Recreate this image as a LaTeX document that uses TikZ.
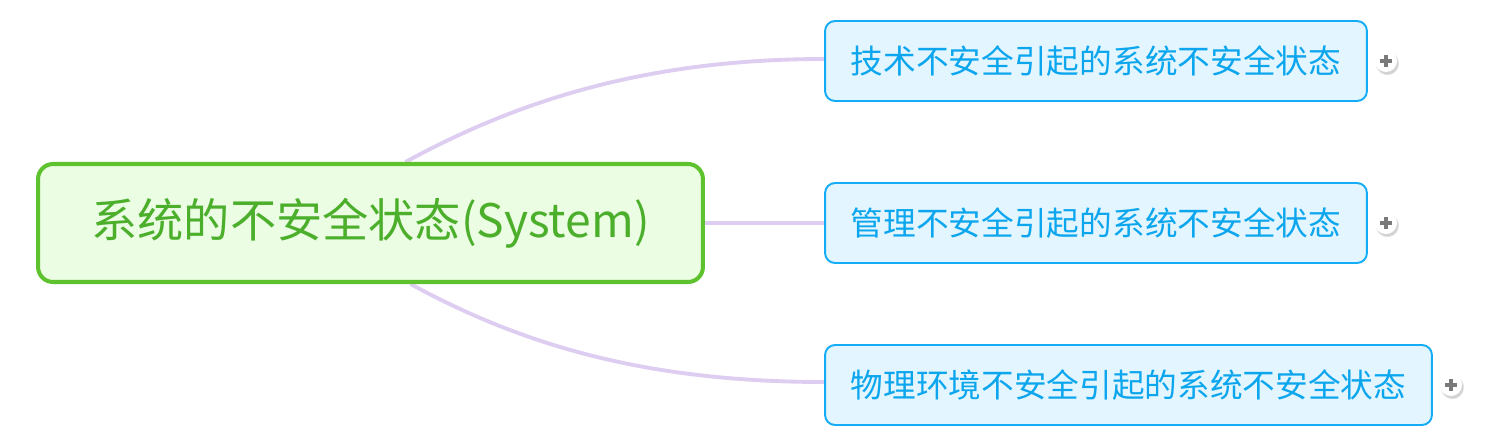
\documentclass[tikz,border=0pt]{standalone}
\usepackage{fontspec}
\newfontfamily\cjk{Noto Sans CJK SC}
\usetikzlibrary{positioning,shadows,backgrounds}
\definecolor{rootgreen}{HTML}{5EC22E}
\definecolor{rootfill}{HTML}{EBFDE3}
\definecolor{roottext}{HTML}{4CAF2C}
\definecolor{leafblue}{HTML}{14ADF5}
\definecolor{leaffill}{HTML}{E3F5FF}
\definecolor{leaftext}{HTML}{0BA6EE}
\definecolor{branch}{HTML}{DDCDF1}
\definecolor{plusgray}{HTML}{7A7A7A}
\tikzstyle{root} = [rectangle, rounded corners=0.3cm, minimum width=13.3cm, minimum height=2.36cm, line width=2.3pt, draw=rootgreen, fill=rootfill, text=roottext, font=\cjk\fontsize{26.3}{30}\selectfont]
\tikzstyle{topic} = [rectangle, rounded corners=0.2cm, minimum height=1.6cm, line width=1.1pt, draw=leafblue, fill=leaffill, text=leaftext, font=\cjk\fontsize{18.6}{22}\selectfont]
\tikzstyle{branchline} = [draw=branch, line width=2.2pt]
\tikzstyle{expander} = [circle, minimum size=0.44cm, inner sep=0pt, fill=white, circular drop shadow={shadow xshift=0.02cm, shadow yshift=-0.04cm, opacity=0.35}]

\begin{document}
\begin{tikzpicture}[x=0.02cm, y=-0.02cm]
 \useasboundingbox (0,0) rectangle (1499,440);

 \node (sys) [root] at (370.5,223) {系统的不安全状态(System)};
 \node (tech) [topic, minimum width=10.84cm] at (1096,61) {技术不安全引起的系统不安全状态};
 \node (mgmt) [topic, minimum width=10.84cm] at (1096,223) {管理不安全引起的系统不安全状态};
 \node (phys) [topic, minimum width=12.14cm] at (1128.5,385) {物理环境不安全引起的系统不安全状态};

 % collapsed markers
 \node (tech+) [expander] at (1386,61) {};
 \node (mgmt+) [expander] at (1386,223) {};
 \node (phys+) [expander] at (1451,385) {};
 \foreach \p in {tech+,mgmt+,phys+}
  \draw[plusgray, line width=2pt] ([xshift=-0.12cm]\p.center) -- ([xshift=0.12cm]\p.center)
   ([yshift=-0.12cm]\p.center) -- ([yshift=0.12cm]\p.center);

 \begin{pgfonlayer}{background}
  \draw[branchline] ([xshift=0.7cm]sys.north) .. controls +(2.2cm,1.2cm) and +(-3.6cm,0) .. ([yshift=0.04cm]tech.west);
  \draw[branchline] (sys.east) -- (mgmt.west);
  \draw[branchline] ([xshift=0.8cm]sys.south) .. controls +(2.2cm,-1.2cm) and +(-3.6cm,0) .. ([yshift=0.06cm]phys.west);
 \end{pgfonlayer}
\end{tikzpicture}
\end{document}
